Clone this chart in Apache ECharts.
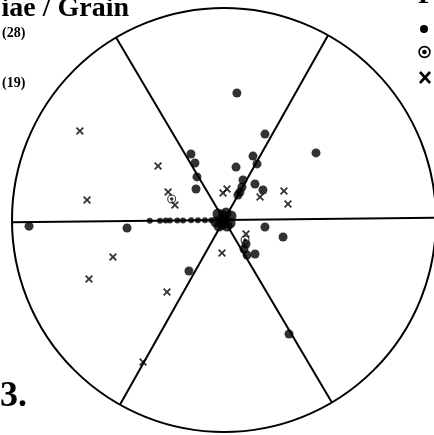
<!DOCTYPE html>
<html>
<head>
<meta charset="utf-8">
<script src="https://cdn.jsdelivr.net/npm/echarts@6/dist/echarts.min.js"></script>
<style>
html,body{margin:0;padding:0;background:#fff;}
#chart{width:434px;height:435px;}
</style>
</head>
<body>
<div id="chart"></div>
<script>
// Sector boundaries (degrees) of the rose diagram
const sectorAngles = [0, 60, 120, 180, 240, 300];

// Filled dots: [radius (% of circle), angle (deg, counter-clockwise from east)]
const dots = [
  [60.2, 83.6], [44.9, 63.9], [33.1, 65.0], [30.7, 58.9], [53.7, 35.5],
  [25.6, 76.6], [34.8, 116.0], [30.2, 116.4], [24.0, 121.5], [19.7, 131.5],
  [20.9, 64.0], [17.7, 60.8], [15.2, 59.7], [13.5, 60.2], [22.4, 48.7],
  [23.2, 37.0], [19.6, 349.7], [29.0, 343.3], [15.4, 311.9], [16.6, 304.0],
  [19.8, 302.7], [21.7, 311.8], [29.2, 234.9], [92.0, 181.2], [45.9, 184.1],
  [61.9, 299.1]
];
// Central cluster of dots
const centreDots = [
  [4.0, 134.4], [3.4, 73.4], [3.8, 29.1], [3.9, 193.4], [0, 0],
  [3.2, 332.8], [3.7, 229.6], [3.2, 296.0], [2.0, 100], [2.0, 250]
];
// Small dots lying on the 180° boundary
const axisDots = [
  [35.0, 180], [30.2, 180], [27.5, 180], [25.5, 180], [22.0, 180],
  [19.3, 180], [15.5, 180], [12.3, 180], [9.0, 180], [6.0, 180]
];
// Circled dots
const circled = [
  [26.6, 157.5], [13.7, 315.8]
];
// Crosses
const crosses = [
  [79.9, 147.7], [40.2, 140.1], [29.5, 152.8], [24.2, 162.4],
  [12.7, 91.5], [14.7, 83.9], [31.4, 25.2], [20.2, 32.0], [31.1, 13.4],
  [12.3, 326.9], [15.6, 265.9], [43.3, 231.0], [65.3, 171.1], [55.2, 197.8],
  [69.5, 203.0], [77.1, 239.7]
];

const seriesNames = ['Type 1', 'Type 2', 'Type 3'];
const titleText = 'iae / Grain';
const countLabels = ['(28)', '(19)'];
const figLabel = '3.';

const crossPath = 'path://M0,1.6L1.6,0L5,3.4L8.4,0L10,1.6L6.6,5L10,8.4L8.4,10L5,6.6L1.6,10L0,8.4L3.4,5Z';
const crossUnit = [[0,1.6],[1.6,0],[5,3.4],[8.4,0],[10,1.6],[6.6,5],[10,8.4],[8.4,10],[5,6.6],[1.6,10],[0,8.4],[3.4,5]];
const ringPath = 'path://M6,0A6,6,0,1,1,6,12A6,6,0,1,1,6,0ZM6,1.4A4.6,4.6,0,1,0,6,10.6A4.6,4.6,0,1,0,6,1.4ZM6,3.6A2.4,2.4,0,1,1,6,8.4A2.4,2.4,0,1,1,6,3.6Z';

const chart = echarts.init(document.getElementById('chart'), null, {renderer: 'canvas'});
const serif = '"Liberation Serif", "DejaVu Serif", serif';

chart.setOption({
  backgroundColor: '#fff',
  animation: false,
  polar: { center: [224, 220], radius: 212 },
  angleAxis: {
    type: 'value', min: 0, max: 360, interval: 60,
    startAngle: 0.6, clockwise: false,
    axisLine: { show: true, lineStyle: { color: '#000', width: 2 } },
    axisTick: { show: false }, axisLabel: { show: false },
    splitLine: { show: true, lineStyle: { color: '#000', width: 2 } }
  },
  radiusAxis: {
    type: 'value', min: 0, max: 100,
    axisLine: { show: false }, axisTick: { show: false },
    axisLabel: { show: false }, splitLine: { show: false }
  },
  graphic: [
    { type: 'text', x: 129, y: 8.5, style: { text: titleText, font: 'bold 28px ' + serif, fill: '#000', align: 'right', verticalAlign: 'middle' } },
    { type: 'text', x: 418, y: -4, style: { text: 'F', font: 'bold 28px ' + serif, fill: '#000', align: 'left', verticalAlign: 'middle' } },
    { type: 'text', x: 2, y: 33, style: { text: countLabels[0], font: 'bold 14px ' + serif, fill: '#000', align: 'left', verticalAlign: 'middle' } },
    { type: 'text', x: 2, y: 83, style: { text: countLabels[1], font: 'bold 14px ' + serif, fill: '#000', align: 'left', verticalAlign: 'middle' } },
    { type: 'text', x: 0, y: 397, style: { text: figLabel, font: 'bold 36px ' + serif, fill: '#000', align: 'left', verticalAlign: 'middle' } },
    // legend keys (their labels lie beyond the right edge of the picture)
    { type: 'circle', shape: { cx: 424, cy: 29, r: 4 }, style: { fill: '#000' } },
    { type: 'circle', shape: { cx: 424.5, cy: 52, r: 5.4 }, style: { fill: 'none', stroke: '#000', lineWidth: 1.6 } },
    { type: 'circle', shape: { cx: 424.5, cy: 52, r: 2.3 }, style: { fill: '#000' } },
    { type: 'polygon', shape: { points: crossUnit.map(p => [419 + p[0] * 1.2, 71 + p[1] * 1.3]) }, style: { fill: '#000' } },
    { type: 'text', x: 438, y: 29, style: { text: seriesNames[0], font: '12px ' + serif, fill: '#000', verticalAlign: 'middle' } },
    { type: 'text', x: 438, y: 52, style: { text: seriesNames[1], font: '12px ' + serif, fill: '#000', verticalAlign: 'middle' } },
    { type: 'text', x: 438, y: 77, style: { text: seriesNames[2], font: '12px ' + serif, fill: '#000', verticalAlign: 'middle' } }
  ],
  series: [
    { name: seriesNames[0], type: 'scatter', coordinateSystem: 'polar', data: axisDots,
      symbol: 'circle', symbolSize: 6, itemStyle: { color: '#000' } },
    { name: seriesNames[0], type: 'scatter', coordinateSystem: 'polar', data: centreDots,
      symbol: 'circle', symbolSize: 11, itemStyle: { color: '#000' } },
    { name: seriesNames[0], type: 'scatter', coordinateSystem: 'polar', data: dots,
      symbol: 'circle', symbolSize: 9, itemStyle: { color: '#000' } },
    { name: seriesNames[1], type: 'scatter', coordinateSystem: 'polar', data: circled,
      symbol: ringPath, symbolSize: 9, itemStyle: { color: '#000' } },
    { name: seriesNames[2], type: 'scatter', coordinateSystem: 'polar', data: crosses,
      symbol: crossPath, symbolSize: 8, itemStyle: { color: '#000' } }
  ]
});
</script>
</body>
</html>
